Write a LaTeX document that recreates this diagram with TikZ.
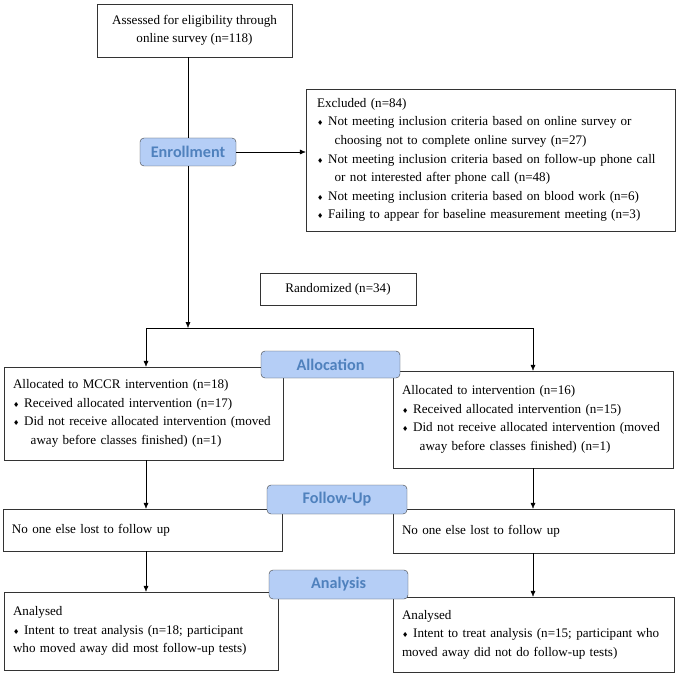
\documentclass[tikz,border=0pt]{standalone}
\usepackage{fontspec}
\setmainfont{Liberation Serif}
\newfontfamily\tagfont{Carlito}
\newfontfamily\symfont{DejaVu Sans}
\usetikzlibrary{arrows.meta}

\definecolor{tagfill}{RGB}{181,206,246}
\definecolor{tagtext}{RGB}{79,129,189}

\newcommand{\dia}{\makebox[0.85em][l]{\symfont\fontsize{7}{7}\selectfont ♦}}
\newcommand{\ind}{\hspace*{1.35em}}

\tikzset{
  box/.style={draw=black!80, rectangle, inner xsep=9pt, inner ysep=2pt, align=left,
    font=\fontsize{13.1}{18.6}\selectfont},
  tag/.style={draw=black!75, fill=tagfill, rounded corners=4pt, text=tagtext, inner sep=0pt,
    font=\tagfont\bfseries\fontsize{16.2}{18}\selectfont},
}

\begin{document}
\begin{tikzpicture}[x=1pt, y=-1pt, >={Latex[length=6pt,width=5pt]}]
        \useasboundingbox (0,0) rectangle (679,676);

        % boxes
        \node (assess) [box, align=center, minimum width=195pt, minimum height=53pt] at (194.5,30.5)
            {Assessed for eligibility through\\online survey (n=118)};
        \node (excl) [box, inner xsep=11pt, text width=347pt, minimum height=142pt] at (490.5,160)
            {Excluded (n=84)\\
             \dia Not meeting inclusion criteria based on online survey or\\
             \ind choosing not to complete online survey (n=27)\\
             \dia Not meeting inclusion criteria based on follow-up phone call\\
             \ind or not interested after phone call (n=48)\\
             \dia Not meeting inclusion criteria based on blood work (n=6)\\
             \dia Failing to appear for baseline measurement meeting (n=3)};
        \node (rand) [box, align=center, minimum width=156pt, minimum height=32pt] at (338,289)
            {Randomized (n=34)};

        \node (A1) [box, text width=261pt, minimum height=93pt] at (143.5,413.5)
            {Allocated to MCCR intervention (n=18)\\
             \dia Received allocated intervention (n=17)\\
             \dia Did not receive allocated intervention (moved\\
             \ind away before classes finished) (n=1)};
        \node (A2) [box, text width=262pt, minimum height=97pt] at (533,419.5)
            {Allocated to intervention (n=16)\\
             \dia Received allocated intervention (n=15)\\
             \dia Did not receive allocated intervention (moved\\
             \ind away before classes finished) (n=1)};

        \node (F1) [box, text width=261pt, minimum height=42pt] at (142.5,530)
            {No one else lost to follow up};
        \node (F2) [box, text width=263pt, minimum height=44pt] at (533.5,531)
            {No one else lost to follow up};

        \node (N1) [box, text width=256pt, minimum height=78pt] at (141,631)
            {Analysed\\
             \dia Intent to treat analysis (n=18; participant\\
             who moved away did most follow-up tests)};
        \node (N2) [box, text width=263pt, minimum height=75pt] at (533.5,634.5)
            {Analysed\\
             \dia Intent to treat analysis (n=15; participant who\\
             moved away did not do follow-up tests)};

        % stage labels
        \node (enroll) [tag, minimum width=96pt, minimum height=28pt] at (188,152) {Enrollment};
        \node (alloc) [tag, minimum width=139pt, minimum height=27pt] at (330.5,364.5) {Allocation};
        \node (follow) [tag, minimum width=140pt, minimum height=29pt] at (337,499.5) {Follow-Up};
        \node (analysis) [tag, minimum width=139pt, minimum height=29pt] at (338.5,584.5) {Analysis};

        \coordinate (split) at (188,328);
        \coordinate (lsplit) at (146,328);
        \coordinate (rsplit) at (533,328);

        \draw (enroll.north) -- (enroll.north |- assess.south);
        \draw [->] (enroll.east) -- (enroll.east -| excl.west);
        \draw [->] (enroll.south) -- (split);
        \draw (lsplit) -- (rsplit);

        \path [->] (lsplit) edge (lsplit |- A1.north)
                   (rsplit) edge (rsplit |- A2.north)
                   (A1.south -| lsplit) edge (F1.north -| lsplit)
                   (A2.south -| rsplit) edge (F2.north -| rsplit)
                   (F1.south -| lsplit) edge (N1.north -| lsplit)
                   (F2.south -| rsplit) edge (N2.north -| rsplit);
    \end{tikzpicture}
\end{document}
